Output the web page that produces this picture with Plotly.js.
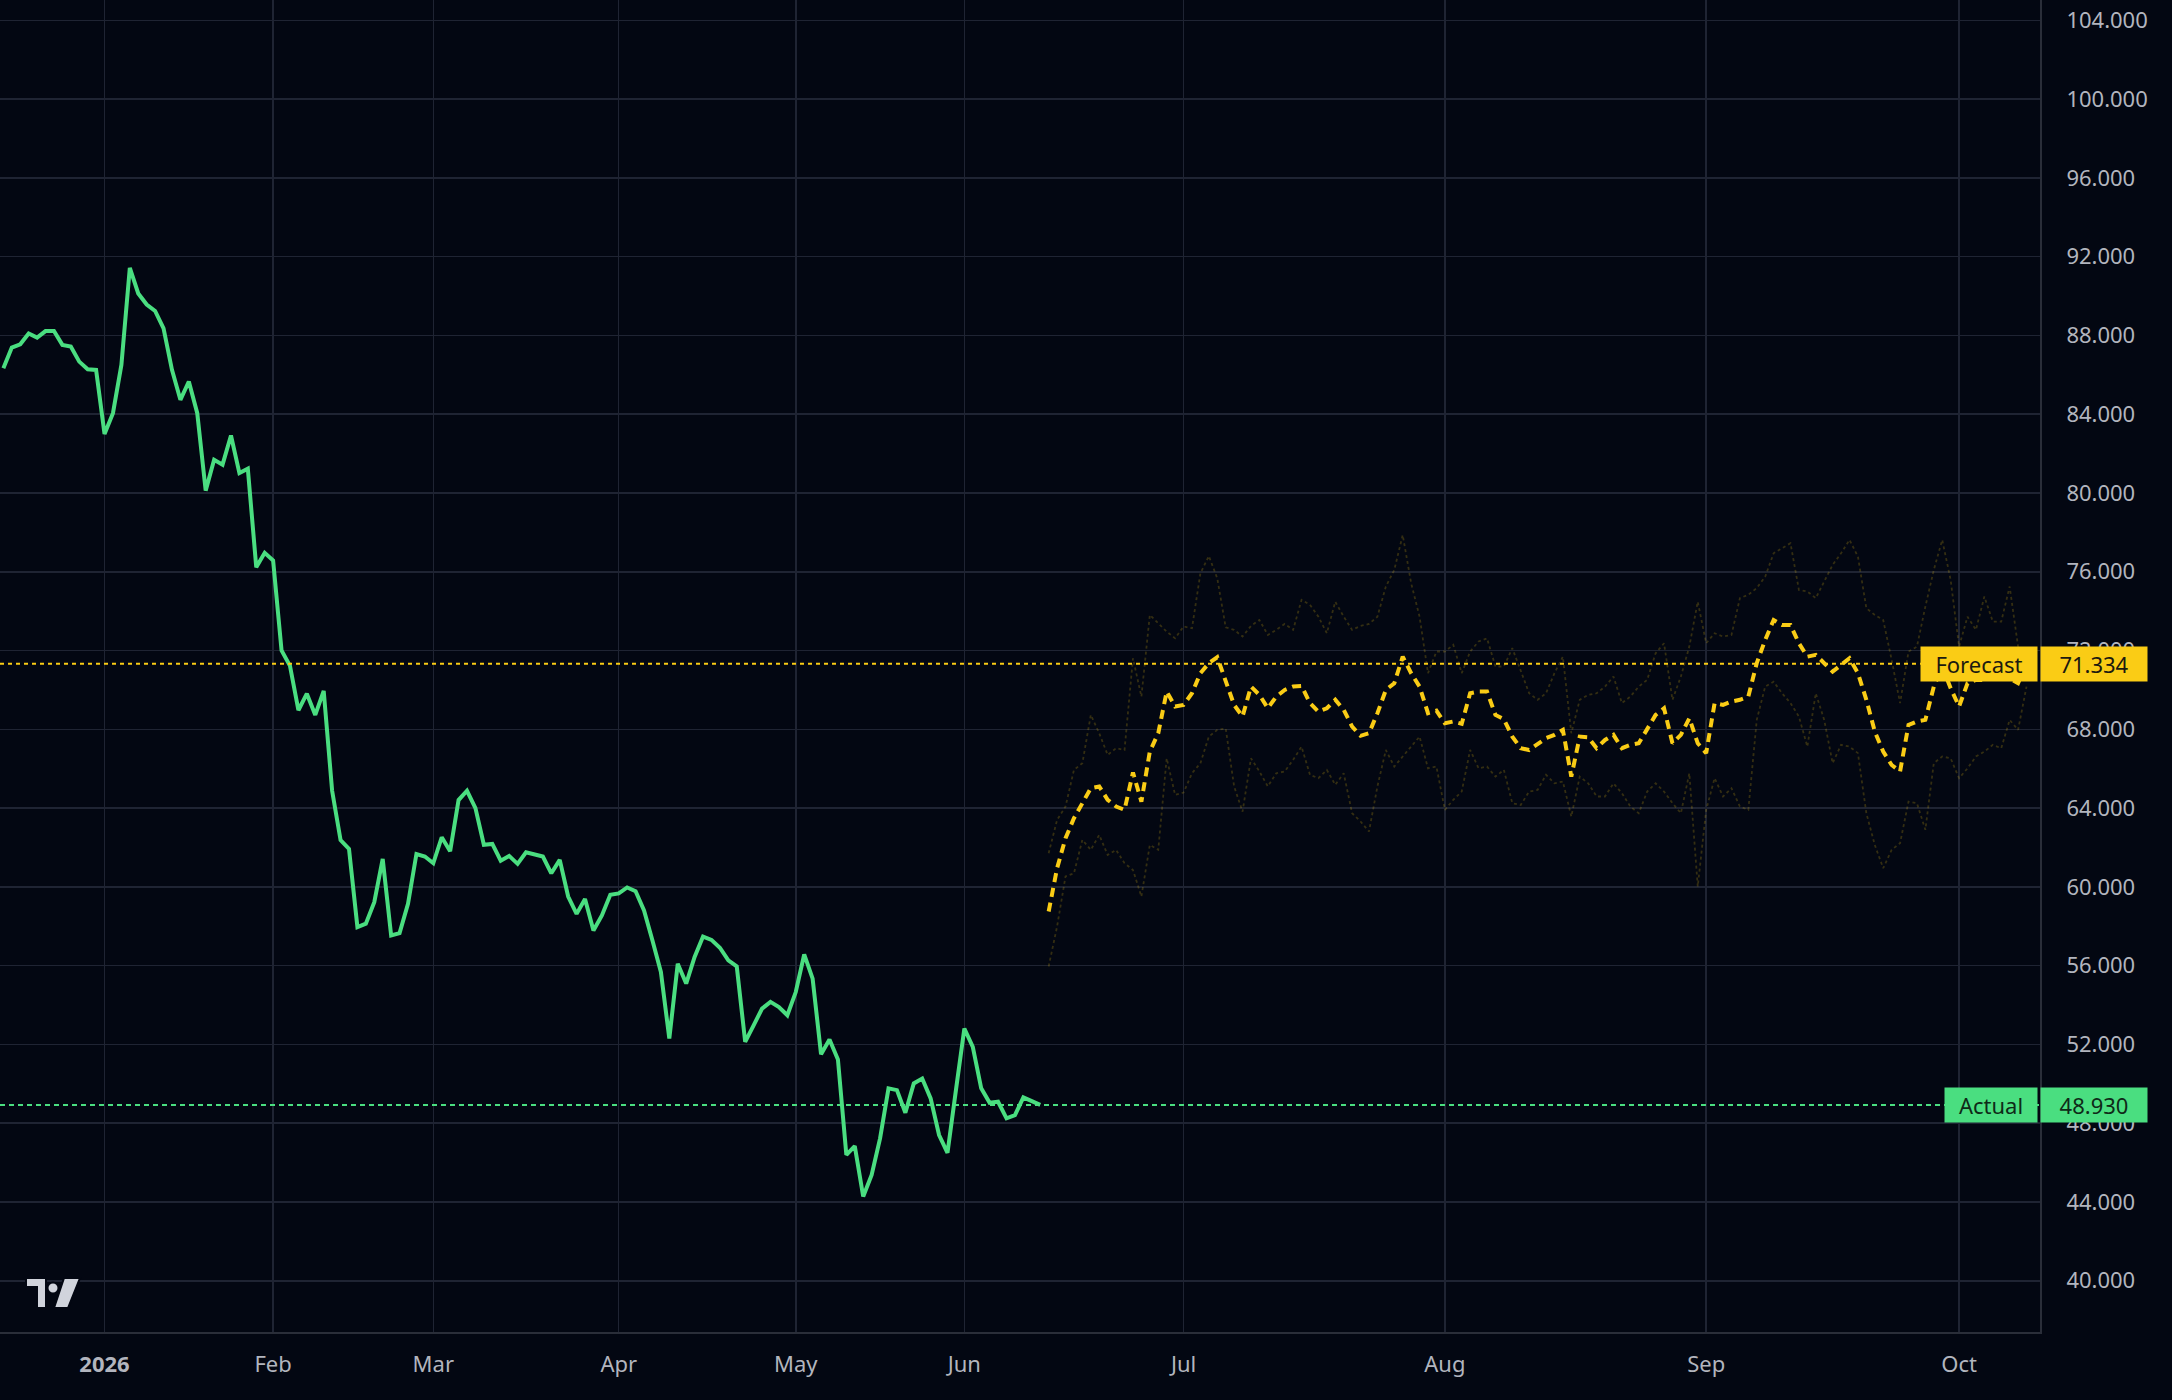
<!DOCTYPE html>
<html>
<head>
<meta charset="utf-8">
<script src="https://cdn.plot.ly/plotly-3.0.1.min.js"></script>
<style>
  html, body { margin: 0; padding: 0; background: #030712; }
  #chart { width: 2172px; height: 1400px; }
</style>
</head>
<body>
<div id="chart"></div>
<script>
// ---------------- DATA ----------------
// Actual daily closes (trading days from 2025-12-15 to 2026-06-12)
const actualValues = [
  86.33, 87.38, 87.55, 88.10, 87.89, 88.22, 88.22, 87.52, 87.43, 86.67, 86.28, 86.25,
  82.99, 84.05, 86.50, 91.43, 90.13, 89.57, 89.24, 88.36, 86.25, 84.73, 85.66, 84.05,
  80.12, 81.69, 81.44, 82.92, 81.01, 81.23, 76.23, 76.96, 76.57, 72.01, 71.22, 68.97,
  69.81, 68.73, 69.95, 64.88, 62.38, 61.93, 57.96, 58.13, 59.22, 61.42, 57.53, 57.65,
  59.14, 61.67, 61.54, 61.20, 62.52, 61.81, 64.41, 64.88, 64.00, 62.14, 62.18, 61.33,
  61.57, 61.17, 61.76, 61.67, 61.54, 60.69, 61.37, 59.51, 58.63, 59.39, 57.79, 58.55,
  59.60, 59.67, 59.97, 59.78, 58.80, 57.28, 55.68, 52.30, 56.10, 55.09, 56.44, 57.48,
  57.31, 56.91, 56.27, 55.96, 52.13, 52.97, 53.82, 54.16, 53.90, 53.48, 54.66, 56.57,
  55.34, 51.50, 52.25, 51.24, 46.39, 46.84, 44.28, 45.37, 47.23, 49.77, 49.68, 48.53,
  50.02, 50.27, 49.26, 47.40, 46.50, 49.68, 52.81, 51.88, 49.77, 49.04, 49.09, 48.25,
  48.41, 49.31, 49.14, 48.93
];
// Forecast (daily, from 2026-06-15)
const forecastMean = [
  58.75, 60.95, 62.47, 63.49, 64.25, 65.01, 65.10, 64.42, 64.08, 63.91, 65.81, 64.33,
  66.87, 67.80, 69.92, 69.16, 69.24, 69.83, 70.85, 71.36, 71.66, 70.51, 69.24, 68.65,
  70.17, 69.75, 69.07, 69.66, 70.00, 70.17, 70.20, 69.33, 68.90, 69.07, 69.50, 68.99,
  68.14, 67.67, 67.80, 68.82, 70.00, 70.34, 71.69, 70.85, 70.17, 68.82, 68.95, 68.31,
  68.40, 68.28, 69.83, 69.92, 69.92, 68.73, 68.51, 67.63, 67.04, 66.95, 67.26, 67.55,
  67.72, 67.97, 65.60, 67.63, 67.60, 67.04, 67.46, 67.72, 67.04, 67.21, 67.29, 67.97,
  68.73, 69.07, 67.29, 67.72, 68.56, 67.29, 66.79, 69.33, 69.24, 69.41, 69.50, 69.66,
  71.36, 72.54, 73.55, 73.30, 73.30, 72.37, 71.69, 71.78, 71.36, 70.93, 71.27, 71.61,
  70.85, 69.50, 67.89, 66.87, 66.19, 65.86, 68.22, 68.40, 68.48, 70.17, 71.18, 70.09,
  69.16, 70.34, 70.51, 70.51, 70.77, 70.93, 70.59, 70.34, 71.334
];
const forecastUpper = [
  61.71, 63.40, 64.08, 65.94, 66.28, 68.73, 67.80, 66.70, 67.04, 66.95, 71.61, 69.66,
  73.81, 73.38, 72.96, 72.62, 73.22, 73.13, 75.92, 76.80, 75.67, 73.18, 73.05, 72.71,
  73.25, 73.55, 72.79, 73.05, 73.35, 73.05, 74.57, 74.32, 73.72, 72.88, 74.48, 73.72,
  73.05, 73.25, 73.35, 73.72, 75.25, 76.09, 77.87, 75.42, 73.72, 70.85, 71.95, 71.95,
  72.29, 70.85, 71.95, 72.46, 72.62, 71.19, 71.19, 72.12, 71.02, 69.83, 69.50, 69.83,
  70.85, 71.69, 67.80, 69.50, 69.75, 69.83, 70.17, 70.68, 69.33, 69.66, 70.17, 70.51,
  71.86, 72.37, 69.50, 70.68, 72.20, 74.48, 72.37, 72.88, 72.71, 72.79, 74.66, 74.83,
  75.17, 75.75, 76.94, 77.19, 77.45, 75.08, 75.00, 74.66, 75.50, 76.35, 76.94, 77.62,
  76.77, 74.15, 73.81, 73.55, 71.53, 69.33, 71.95, 72.20, 74.23, 76.09, 77.62, 75.59,
  72.20, 73.72, 73.05, 74.74, 73.47, 73.47, 75.25, 72.20, 71.36
];
const forecastLower = [
  55.96, 57.99, 60.53, 60.69, 62.39, 61.88, 62.64, 61.62, 61.88, 61.20, 60.86, 59.51,
  62.13, 61.88, 66.53, 64.67, 64.79, 65.77, 66.28, 67.63, 67.97, 68.05, 65.10, 63.82,
  66.53, 65.86, 65.10, 65.77, 65.86, 66.45, 67.12, 65.69, 65.52, 65.94, 65.18, 65.77,
  63.74, 63.32, 62.81, 65.10, 66.95, 66.11, 66.62, 67.12, 67.63, 66.02, 66.11, 63.91,
  64.42, 64.84, 66.95, 66.02, 66.11, 65.60, 65.94, 64.25, 64.16, 64.84, 64.92, 65.69,
  65.26, 65.35, 63.57, 65.60, 65.26, 64.59, 64.59, 65.26, 64.76, 64.08, 63.74, 64.84,
  65.26, 64.84, 64.25, 63.74, 65.77, 60.02, 63.91, 65.52, 64.59, 65.01, 64.08, 63.91,
  68.48, 70.17, 70.42, 69.83, 69.33, 68.65, 67.12, 69.83, 68.48, 66.28, 67.21, 67.12,
  66.79, 63.74, 62.13, 60.95, 61.88, 62.22, 64.33, 64.25, 62.90, 66.28, 66.62, 66.53,
  65.52, 66.02, 66.62, 66.87, 67.21, 67.04, 68.48, 67.97, 70.17
];
const actualLast = 48.930;
const forecastLast = 71.334;

const actualStart = '2025-12-15';
const forecastStart = '2026-06-15';
const marketHolidays = ['2025-12-25', '2026-01-01', '2026-01-19', '2026-02-16', '2026-04-03', '2026-05-25'];

const tickDates = ['2026-01-02', '2026-02-02', '2026-03-02', '2026-04-01', '2026-05-01',
                   '2026-06-01', '2026-07-01', '2026-08-01', '2026-09-01', '2026-10-01'];
const tickLabels = ['<b>2026</b>', 'Feb', 'Mar', 'Apr', 'May', 'Jun', 'Jul', 'Aug', 'Sep', 'Oct'];

// ---------------- DATES ----------------
function iso(d) { return d.toISOString().slice(0, 10); }
function tradingDays(start, n) {
  const out = [];
  const d = new Date(start + 'T00:00:00Z');
  while (out.length < n) {
    const wd = d.getUTCDay();
    const s = iso(d);
    if (wd !== 0 && wd !== 6 && marketHolidays.indexOf(s) < 0) out.push(s);
    d.setUTCDate(d.getUTCDate() + 1);
  }
  return out;
}
function calendarDays(start, n) {
  const out = [];
  const d = new Date(start + 'T00:00:00Z');
  for (let i = 0; i < n; i++) { out.push(iso(d)); d.setUTCDate(d.getUTCDate() + 1); }
  return out;
}
const actualDates = tradingDays(actualStart, actualValues.length);
const forecastDates = calendarDays(forecastStart, forecastMean.length);

// ---------------- STYLE ----------------
const BG = '#030712';
const GRID = '#1f2433';
const AXISLINE = '#2a2e39';
const TEXT = '#b2b5be';
const GREEN = '#4ade80';
const YELLOW = '#facc15';
const FONT = 'Noto Sans, Open Sans, sans-serif';

const traces = [
  {
    x: actualDates, y: actualValues, type: 'scatter', mode: 'lines',
    line: { color: GREEN, width: 4 }, hoverinfo: 'skip', name: 'Actual'
  },
  {
    x: forecastDates, y: forecastUpper, type: 'scatter', mode: 'lines',
    line: { color: 'rgba(250,204,21,0.2)', width: 1.8, dash: 'dot' }, hoverinfo: 'skip', name: 'Upper'
  },
  {
    x: forecastDates, y: forecastLower, type: 'scatter', mode: 'lines',
    line: { color: 'rgba(250,204,21,0.2)', width: 1.8, dash: 'dot' }, hoverinfo: 'skip', name: 'Lower'
  },
  {
    x: forecastDates, y: forecastMean, type: 'scatter', mode: 'lines',
    line: { color: YELLOW, width: 4, dash: '9px,6px' }, hoverinfo: 'skip', name: 'Forecast'
  }
];

const logoSvg = '<svg xmlns="http://www.w3.org/2000/svg" width="60" height="34" viewBox="0 0 60 34">' +
  '<g fill="#d1d4dc" stroke="#030712" stroke-width="2" stroke-linejoin="miter">' +
  '<path d="M2 2 H22 V32 H13 V11 H2 Z"/>' +
  '<circle cx="29" cy="12" r="5.5"/>' +
  '<path d="M40 2 H56 L44 32 H30 Z"/>' +
  '</g></svg>';

const layout = {
  width: 2172, height: 1400,
  paper_bgcolor: BG, plot_bgcolor: BG,
  margin: { l: 0, r: 132, t: 0, b: 68 },
  showlegend: false,
  font: { family: FONT, color: TEXT, size: 22 },
  xaxis: {
    type: 'category',
    categoryorder: 'trace',
    range: [-0.4, 241.6],
    tickmode: 'array',
    tickvals: tickDates,
    ticktext: tickLabels,
    showgrid: true, gridcolor: GRID, gridwidth: 1.5,
    showline: true, linecolor: AXISLINE, linewidth: 2,
    zeroline: false,
    ticks: '',
    ticklabelstandoff: 12,
    tickfont: { family: FONT, size: 22, color: TEXT },
    fixedrange: true
  },
  yaxis: {
    side: 'right',
    range: [37.4, 105.03],
    tick0: 0, dtick: 4,
    tickformat: '.3f',
    showgrid: true, gridcolor: GRID, gridwidth: 1.5,
    showline: true, linecolor: AXISLINE, linewidth: 2,
    zeroline: false,
    ticks: '',
    ticklabelstandoff: 20,
    tickfont: { family: FONT, size: 22, color: TEXT },
    fixedrange: true
  },
  shapes: [
    { type: 'line', xref: 'paper', yref: 'y', x0: 0, x1: 1, y0: forecastLast, y1: forecastLast,
      line: { color: YELLOW, width: 2, dash: '4px,4px' }, layer: 'above' },
    { type: 'line', xref: 'paper', yref: 'y', x0: 0, x1: 1, y0: actualLast, y1: actualLast,
      line: { color: GREEN, width: 2, dash: '5px,4px' }, layer: 'above' }
  ],
  annotations: [
    { xref: 'paper', yref: 'y', x: 1, y: forecastLast, xanchor: 'right', yanchor: 'middle', xshift: -2,
      text: 'Forecast', showarrow: false, bgcolor: YELLOW, width: 116, height: 34, borderpad: 0,
      font: { family: FONT, size: 22, color: '#1c1a10' }, align: 'center' },
    { xref: 'paper', yref: 'y', x: 1, y: forecastLast, xanchor: 'left', yanchor: 'middle', xshift: 0,
      text: forecastLast.toFixed(3), showarrow: false, bgcolor: YELLOW, width: 106, height: 34, borderpad: 0,
      font: { family: FONT, size: 22, color: '#1c1a10' }, align: 'center' },
    { xref: 'paper', yref: 'y', x: 1, y: actualLast, xanchor: 'right', yanchor: 'middle', xshift: -2,
      text: 'Actual', showarrow: false, bgcolor: GREEN, width: 92, height: 34, borderpad: 0,
      font: { family: FONT, size: 22, color: '#0f2a18' }, align: 'center' },
    { xref: 'paper', yref: 'y', x: 1, y: actualLast, xanchor: 'left', yanchor: 'middle', xshift: 0,
      text: actualLast.toFixed(3), showarrow: false, bgcolor: GREEN, width: 106, height: 34, borderpad: 0,
      font: { family: FONT, size: 22, color: '#0f2a18' }, align: 'center' }
  ],
  images: [
    { source: 'data:image/svg+xml;charset=utf-8,' + encodeURIComponent(logoSvg),
      xref: 'paper', yref: 'paper', x: 24 / 2040, y: 56 / 1332, sizex: 60 / 2040, sizey: 34 / 1332,
      xanchor: 'left', yanchor: 'top', sizing: 'stretch', layer: 'above' }
  ]
};

Plotly.newPlot('chart', traces, layout, { displayModeBar: false, staticPlot: true });
</script>
</body>
</html>
